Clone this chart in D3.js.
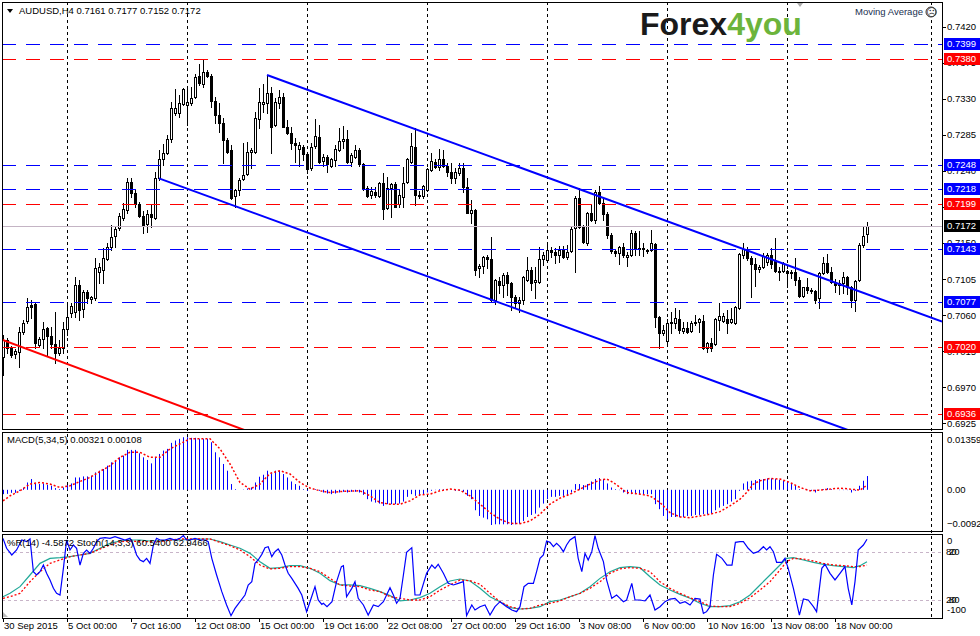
<!DOCTYPE html>
<meta charset="utf-8">
<style>
body { margin: 0; background: #fff; }
text { font-family: "Liberation Sans", Arial, sans-serif; font-size: 9.5px; }
</style>
<svg width="980" height="636"></svg>
<script src="https://cdn.jsdelivr.net/npm/d3@7/dist/d3.min.js"></script>
<script>
// AUDUSD H4 candles, 30 Sep 2015 08:00 .. 19 Nov 2015 08:00
var opens = [0.7008,0.7029,0.7019,0.7011,0.7014,0.7039,0.7053,0.7073,0.7074,0.7023,0.7030,0.7044,0.7034,0.7024,0.7013,0.7019,0.7043,0.7063,0.7064,0.7098,
0.7068,0.7089,0.7080,0.7081,0.7114,0.7116,0.7130,0.7145,0.7159,0.7169,0.7181,0.7191,0.7226,0.7213,0.7199,0.7184,0.7174,0.7186,0.7181,0.7231,
0.7255,0.7263,0.7280,0.7313,0.7313,0.7324,0.7323,0.7325,0.7333,0.7359,0.7349,0.7364,0.7359,0.7328,0.7310,0.7300,0.7279,0.7266,0.7209,0.7216,
0.7230,0.7236,0.7264,0.7264,0.7305,0.7324,0.7325,0.7338,0.7298,0.7325,0.7333,0.7295,0.7288,0.7275,0.7268,0.7270,0.7261,0.7244,0.7271,0.7283,
0.7253,0.7258,0.7246,0.7254,0.7266,0.7278,0.7280,0.7251,0.7258,0.7266,0.7249,0.7219,0.7210,0.7214,0.7209,0.7225,0.7194,0.7219,0.7224,0.7199,
0.7208,0.7226,0.7251,0.7270,0.7210,0.7209,0.7216,0.7241,0.7251,0.7245,0.7255,0.7246,0.7239,0.7231,0.7238,0.7244,0.7220,0.7188,0.7191,0.7119,
0.7121,0.7133,0.7130,0.7079,0.7103,0.7098,0.7110,0.7100,0.7083,0.7075,0.7079,0.7104,0.7116,0.7101,0.7101,0.7130,0.7129,0.7141,0.7139,0.7135,
0.7141,0.7133,0.7140,0.7169,0.7206,0.7170,0.7150,0.7188,0.7179,0.7214,0.7200,0.7186,0.7160,0.7140,0.7138,0.7145,0.7133,0.7135,0.7163,0.7143,
0.7144,0.7141,0.7141,0.7149,0.7058,0.7038,0.7028,0.7050,0.7050,0.7055,0.7040,0.7044,0.7040,0.7050,0.7051,0.7053,0.7019,0.7025,0.7024,0.7054,
0.7053,0.7055,0.7051,0.7050,0.7069,0.7135,0.7143,0.7131,0.7124,0.7118,0.7120,0.7126,0.7135,0.7129,0.7115,0.7115,0.7115,0.7113,0.7114,0.7104,
0.7084,0.7095,0.7091,0.7090,0.7081,0.7113,0.7125,0.7114,0.7101,0.7098,0.7100,0.7108,0.7095,0.7079,0.7104,0.7148,0.7161];
var highs = [0.7035,0.7031,0.7021,0.7018,0.7045,0.7054,0.7081,0.7079,0.7076,0.7033,0.7051,0.7045,0.7045,0.7064,0.7029,0.7051,0.7075,0.7075,0.7108,0.7104,
0.7091,0.7091,0.7084,0.7131,0.7125,0.7144,0.7150,0.7173,0.7171,0.7188,0.7200,0.7231,0.7231,0.7216,0.7201,0.7190,0.7191,0.7198,0.7239,0.7266,
0.7274,0.7285,0.7326,0.7343,0.7335,0.7344,0.7345,0.7345,0.7361,0.7374,0.7380,0.7366,0.7361,0.7333,0.7325,0.7306,0.7281,0.7273,0.7218,0.7231,
0.7275,0.7276,0.7269,0.7314,0.7344,0.7349,0.7360,0.7345,0.7331,0.7341,0.7338,0.7304,0.7295,0.7281,0.7276,0.7273,0.7263,0.7275,0.7305,0.7298,
0.7261,0.7260,0.7256,0.7273,0.7294,0.7296,0.7291,0.7263,0.7273,0.7269,0.7250,0.7221,0.7220,0.7220,0.7226,0.7238,0.7233,0.7225,0.7226,0.7216,
0.7245,0.7256,0.7288,0.7294,0.7215,0.7223,0.7244,0.7263,0.7255,0.7268,0.7266,0.7250,0.7250,0.7244,0.7250,0.7250,0.7231,0.7204,0.7193,0.7124,
0.7134,0.7135,0.7158,0.7105,0.7108,0.7113,0.7114,0.7101,0.7085,0.7083,0.7109,0.7133,0.7120,0.7120,0.7145,0.7139,0.7150,0.7145,0.7144,0.7146,
0.7146,0.7148,0.7170,0.7209,0.7219,0.7173,0.7189,0.7198,0.7216,0.7221,0.7208,0.7189,0.7163,0.7143,0.7146,0.7150,0.7139,0.7166,0.7165,0.7165,
0.7150,0.7143,0.7166,0.7150,0.7059,0.7048,0.7055,0.7064,0.7069,0.7066,0.7051,0.7051,0.7053,0.7060,0.7056,0.7060,0.7026,0.7031,0.7056,0.7075,
0.7063,0.7066,0.7069,0.7071,0.7138,0.7150,0.7145,0.7134,0.7131,0.7123,0.7138,0.7138,0.7144,0.7156,0.7120,0.7126,0.7116,0.7116,0.7131,0.7108,
0.7095,0.7106,0.7094,0.7091,0.7114,0.7133,0.7136,0.7120,0.7105,0.7104,0.7114,0.7109,0.7096,0.7104,0.7150,0.7170,0.7177];
var lows = [0.6985,0.7013,0.7008,0.7006,0.6995,0.7036,0.7050,0.7056,0.7019,0.7020,0.7019,0.7010,0.7019,0.7000,0.7010,0.7013,0.7035,0.7058,0.7058,0.7054,
0.7058,0.7075,0.7075,0.7079,0.7100,0.7100,0.7129,0.7141,0.7145,0.7166,0.7179,0.7188,0.7208,0.7195,0.7183,0.7163,0.7164,0.7170,0.7180,0.7229,
0.7248,0.7261,0.7276,0.7310,0.7308,0.7323,0.7298,0.7323,0.7331,0.7348,0.7345,0.7358,0.7320,0.7300,0.7289,0.7250,0.7263,0.7205,0.7195,0.7210,
0.7229,0.7235,0.7244,0.7263,0.7294,0.7314,0.7313,0.7263,0.7296,0.7319,0.7295,0.7286,0.7268,0.7251,0.7246,0.7254,0.7238,0.7241,0.7269,0.7250,
0.7246,0.7239,0.7245,0.7246,0.7265,0.7269,0.7250,0.7246,0.7256,0.7246,0.7216,0.7208,0.7206,0.7208,0.7208,0.7180,0.7193,0.7183,0.7195,0.7195,
0.7195,0.7225,0.7250,0.7198,0.7206,0.7206,0.7215,0.7240,0.7244,0.7241,0.7245,0.7234,0.7225,0.7225,0.7235,0.7214,0.7188,0.7175,0.7110,0.7108,
0.7113,0.7119,0.7076,0.7074,0.7088,0.7083,0.7085,0.7066,0.7070,0.7064,0.7074,0.7103,0.7091,0.7081,0.7100,0.7123,0.7128,0.7133,0.7125,0.7126,
0.7131,0.7130,0.7139,0.7114,0.7169,0.7150,0.7148,0.7178,0.7175,0.7199,0.7179,0.7156,0.7138,0.7134,0.7124,0.7133,0.7121,0.7134,0.7135,0.7135,
0.7134,0.7138,0.7140,0.7045,0.7019,0.7035,0.7025,0.7038,0.7044,0.7038,0.7038,0.7038,0.7039,0.7048,0.7039,0.7018,0.7014,0.7015,0.7023,0.7041,
0.7051,0.7038,0.7050,0.7049,0.7068,0.7131,0.7129,0.7083,0.7096,0.7114,0.7119,0.7123,0.7119,0.7114,0.7104,0.7114,0.7095,0.7106,0.7098,0.7083,
0.7083,0.7088,0.7088,0.7075,0.7069,0.7111,0.7113,0.7100,0.7089,0.7086,0.7088,0.7086,0.7070,0.7065,0.7103,0.7145,0.7152];
var closes = [0.7029,0.7019,0.7010,0.7015,0.7039,0.7050,0.7070,0.7070,0.7025,0.7030,0.7043,0.7034,0.7024,0.7013,0.7019,0.7043,0.7058,0.7071,0.7098,0.7066,
0.7089,0.7081,0.7083,0.7119,0.7120,0.7131,0.7145,0.7158,0.7168,0.7184,0.7193,0.7226,0.7213,0.7199,0.7184,0.7171,0.7186,0.7183,0.7231,0.7255,
0.7263,0.7280,0.7319,0.7319,0.7325,0.7343,0.7326,0.7331,0.7358,0.7350,0.7364,0.7359,0.7328,0.7310,0.7300,0.7279,0.7264,0.7206,0.7216,0.7229,
0.7235,0.7264,0.7266,0.7306,0.7326,0.7326,0.7338,0.7295,0.7326,0.7333,0.7295,0.7288,0.7275,0.7273,0.7273,0.7261,0.7243,0.7270,0.7284,0.7251,
0.7258,0.7249,0.7255,0.7268,0.7278,0.7280,0.7251,0.7260,0.7266,0.7249,0.7219,0.7209,0.7215,0.7210,0.7225,0.7193,0.7219,0.7224,0.7195,0.7210,
0.7225,0.7255,0.7271,0.7210,0.7209,0.7221,0.7243,0.7253,0.7245,0.7255,0.7246,0.7239,0.7231,0.7239,0.7244,0.7220,0.7188,0.7191,0.7116,0.7121,
0.7133,0.7130,0.7079,0.7104,0.7098,0.7110,0.7100,0.7083,0.7075,0.7079,0.7108,0.7116,0.7100,0.7104,0.7130,0.7135,0.7141,0.7139,0.7135,0.7141,
0.7133,0.7139,0.7168,0.7206,0.7170,0.7151,0.7188,0.7179,0.7214,0.7200,0.7186,0.7160,0.7140,0.7138,0.7145,0.7135,0.7135,0.7163,0.7143,0.7144,
0.7143,0.7140,0.7150,0.7058,0.7038,0.7041,0.7050,0.7051,0.7056,0.7041,0.7044,0.7039,0.7050,0.7051,0.7055,0.7019,0.7025,0.7019,0.7055,0.7059,
0.7059,0.7050,0.7055,0.7070,0.7136,0.7143,0.7131,0.7124,0.7118,0.7120,0.7134,0.7135,0.7124,0.7115,0.7114,0.7125,0.7113,0.7114,0.7104,0.7084,
0.7095,0.7091,0.7090,0.7079,0.7113,0.7125,0.7114,0.7101,0.7098,0.7100,0.7108,0.7095,0.7079,0.7103,0.7148,0.7159,0.7172];

var priceTicks = [0.7420,0.7375,0.7330,0.7285,0.7240,0.7195,0.7150,0.7105,0.7060,0.7015,0.6970,0.6925];
var blueLevels = [0.7399,0.7248,0.7218,0.7143,0.7077];
var redLevels = [0.7380,0.7199,0.7020,0.6936];
var bidPrice = 0.7172;
// trend objects: [bar, price] anchors
var upperChannel = [[66,0.7360],[234.75,0.7052]];
var lowerChannel = [[39,0.7231],[207.75,0.6923]];
var redTrend = [[0,0.7029],[58,0.6921]];

var timeBars = [0,16,32,48,64,80,96,112,128,144,160,176,192,208];
var timeLabels = ["30 Sep 2015","5 Oct 00:00","7 Oct 16:00","12 Oct 08:00","15 Oct 00:00","19 Oct 16:00","22 Oct 08:00",
  "27 Oct 00:00","29 Oct 16:00","3 Nov 08:00","6 Nov 00:00","10 Nov 16:00","13 Nov 08:00","18 Nov 00:00"];
var weekBars = [16,46,76,106,136,166,196,232];

// MACD(5,34,5)
var macdHist = [-0.00101,-0.00094,-0.00070,-0.00070,-0.00023,0.00047,0.00171,0.00251,0.00148,0.00134,0.00148,0.00117,0.00094,0.00040,0.00016,0.00054,0.00110,0.00148,0.00288,0.00288,
0.00312,0.00312,0.00328,0.00405,0.00445,0.00485,0.00562,0.00640,0.00679,0.00757,0.00797,0.00930,0.00930,0.00930,0.00851,0.00757,0.00696,0.00616,0.00757,0.00836,
0.00914,0.00954,0.01094,0.01148,0.01188,0.01225,0.01225,0.01211,0.01211,0.01188,0.01188,0.01188,0.01108,0.00874,0.00757,0.00602,0.00445,0.00134,0.00016,0,
0.00007,0.00030,0.00054,0.00171,0.00305,0.00351,0.00445,0.00382,0.00445,0.00445,0.00368,0.00288,0.00194,0.00134,0.00094,0.00016,-0.00023,0,0.00016,-0.00023,
-0.00063,-0.00087,-0.00101,-0.00087,-0.00063,-0.00047,-0.00063,-0.00047,-0.00047,-0.00063,-0.00117,-0.00218,-0.00274,-0.00298,-0.00321,-0.00375,-0.00335,-0.00335,-0.00335,-0.00321,
-0.00274,-0.00164,-0.00101,-0.00141,-0.00141,-0.00117,-0.00063,-0.00023,-0.00007,0.00016,0.00016,0.00007,0,-0.00023,-0.00023,-0.00047,-0.00141,-0.00218,-0.00476,-0.00609,
-0.00649,-0.00687,-0.00820,-0.00804,-0.00804,-0.00804,-0.00804,-0.00820,-0.00804,-0.00790,-0.00726,-0.00633,-0.00586,-0.00555,-0.00415,-0.00321,-0.00218,-0.00164,-0.00164,-0.00141,
-0.00141,-0.00141,-0.00063,0.00134,0.00134,0.00110,0.00134,0.00194,0.00251,0.00274,0.00251,0.00148,0.00054,0.00016,-0.00007,-0.00063,-0.00101,-0.00101,-0.00101,-0.00101,
-0.00101,-0.00101,-0.00101,-0.00335,-0.00452,-0.00609,-0.00687,-0.00633,-0.00633,-0.00633,-0.00633,-0.00609,-0.00609,-0.00586,-0.00586,-0.00569,-0.00569,-0.00555,-0.00476,-0.00415,
-0.00375,-0.00335,-0.00274,-0.00218,-0.00023,0.00148,0.00194,0.00211,0.00227,0.00251,0.00251,0.00265,0.00265,0.00251,0.00234,0.00211,0.00194,0.00134,0.00094,0.00016,
0,-0.00007,-0.00023,-0.00063,-0.00007,0.00016,0.00040,0.00016,0,-0.00007,-0.00007,-0.00007,-0.00063,-0.00023,0.00094,0.00211,0.00321];
var macdSignal = [[0,-0.00258],[1.75,-0.00141],[4.25,-0.00023],[6.75,0.00134],[9.25,0.00171],[11.75,0.00134],[14.25,0.00054],[16.75,0.00094],
[19.25,0.00194],[21.75,0.00288],[24.25,0.00429],[26.75,0.00562],[29.25,0.00757],[31.75,0.00874],[34.25,0.00874],[36.75,0.00757],[39.25,0.00757],
[41.75,0.00954],[44.25,0.01071],[46.75,0.01188],[49.25,0.01188],[51.75,0.01188],[54.25,0.00954],[56.75,0.00602],[59.25,0.00171],[61.75,0.00016],
[64.25,0.00134],[66.75,0.00382],[69.25,0.00445],[71.75,0.00368],[74.25,0.00171],[76.75,0.00040],[79.25,-0.00023],[81.75,-0.00063],[84.25,-0.00040],
[89.25,-0.00023],[91.75,-0.00141],[94.25,-0.00298],[96.75,-0.00335],[99.25,-0.00335],[101.75,-0.00258],[104.25,-0.00117],[106.75,-0.00101],
[109.25,-0.00023],[111.75,0.00016],[114.25,-0.00007],[116.75,-0.00141],[119.25,-0.00335],[121.75,-0.00532],[124.25,-0.00687],[126.75,-0.00780],
[129.25,-0.00790],[131.75,-0.00726],[134.25,-0.00569],[136.75,-0.00335],[139.25,-0.00194],[141.75,-0.00101],[144.25,0.00016],[146.75,0.00134],
[149.25,0.00227],[150.9,0.00251],[152.6,0.00171],[154.25,0.00054],[155.9,-0.00063],[159.25,-0.00101],[161.75,-0.00141],[164.25,-0.00298],
[166.75,-0.00532],[169.25,-0.00633],[171.75,-0.00649],[174.25,-0.00609],[176.75,-0.00569],[179.25,-0.00508],[181.75,-0.00375],[184.25,-0.00218],
[185.9,-0.00063],[187.6,0.00134],[189.25,0.00211],[191.75,0.00265],[194.25,0.00251],[196.75,0.00171],[199.25,0.00054],[201.75,-0.00023],
[204.25,-0.00007],[206.75,0.00016],[209.25,0.00040],[211.75,0.00016],[214.25,-0.00007],[216,0.00108]];
var macdTicks = [0.01359, 0, -0.00925];

// %R(14) and Stochastic, [bar, value]
var pctR = [[0,-3.4],[0.9,-15.8],[2.2,-24.1],[3.4,-17.9],[4.7,-5.5],[5.9,-7.5],[6.75,-4.2],[7.6,-44.9],[8.4,-49],[9.25,-44.9],[10.1,-36.6],[10.9,-46.9],
[11.75,-55.2],[12.6,-65.6],[13.4,-71.8],[14.25,-73.9],[15.1,-40.7],[15.9,-5.5],[16.75,-17.9],[17.6,-11.7],[18.4,-15.8],[19.25,-36.6],[20.1,-22.1],
[20.9,-17.9],[21.75,-22.1],[22.6,-15.8],[23.4,-7.5],[24.25,-3.4],[25.5,-2.6],[26.75,-3.4],[28,-1.3],[29.25,-3.4],[30.5,-5.5],[31.75,-3.4],[32.6,-11.7],
[33.4,-24.1],[34.25,-30.3],[35.1,-32.4],[35.9,-28.3],[36.75,-34.5],[37.6,-11.7],[38.4,-3.4],[39.25,-5.5],[40.5,-5.5],[41.75,-3.4],[43,-5.5],[44.25,-3.4],
[45.1,0],[45.9,-5.5],[46.75,-5.5],[48,-3.4],[49.25,-5.5],[50.5,-5.5],[51.3,-7.5],[52.2,-28.3],[53.4,-49],[54.7,-69.7],[55.9,-86.3],[57,-99.6],[58,-90.5],
[59.25,-82.2],[60.5,-73.9],[61.3,-61.4],[62.2,-57.3],[63,-34.5],[63.8,-30.3],[64.7,-23.3],[65.5,-15],[66.3,-13.8],[67.2,-26.2],[68,-20],[68.8,-16.7],
[69.7,-24.1],[70.5,-36.6],[71.3,-46.9],[72.2,-53.2],[73,-59.4],[73.8,-65.6],[74.7,-73.9],[75.9,-94.6],[76.75,-82.2],[78,-63.5],[78.8,-80.1],[79.7,-85.5],
[80.1,-84.2],[81,-88.4],[82.25,-82.2],[83.4,-57.3],[84.6,-38.6],[85.1,-37.4],[85.9,-76],[87.2,-65.6],[88,-57.3],[88.8,-78],[90.1,-86.3],[91.3,-98.8],
[92.6,-86.3],[93.8,-88.4],[95.1,-82.2],[95.9,-73.9],[96.75,-64.8],[97.6,-73.9],[98.4,-84.2],[99.25,-78],[100.1,-49],[100.9,-20.8],[102.2,-15],[103,-73.9],
[104.25,-73.9],[105.9,-46.9],[107.2,-36.6],[108,-40.7],[108.8,-35.7],[110.1,-46.9],[111.3,-59.4],[112.6,-61.4],[113.8,-59.4],[115.1,-57.3],[115.9,-99.6],
[117.2,-86.3],[118,-92.5],[119.25,-88.4],[120.5,-86.3],[121.75,-98.8],[123,-88.4],[124.25,-82.2],[125.9,-88.4],[127.2,-92.5],[128.4,-94.6],[129.25,-88.4],
[130.25,-63.5],[131.3,-59.4],[132.6,-59.4],[133.4,-44.9],[134.25,-28.3],[135.1,-24.1],[135.9,-6.7],[136.75,-8.4],[137.6,-13.8],[138.4,-9.6],[139.25,-13.8],
[140.1,-20],[140.9,-11.7],[141.75,-5.5],[143,-1.3],[143.8,-28.3],[144.7,-44.9],[145.5,-22.1],[146.3,-30.3],[147.2,-20],[148,-0.1],[148.8,-15.8],
[150.1,-32.4],[150.9,-55.2],[152.2,-78],[153.4,-73.9],[154.25,-78],[155.1,-82.2],[155.9,-80.1],[157.2,-59.4],[158,-80.1],[159.25,-80.1],[160.5,-81.3],
[161.75,-73.9],[163,-92.5],[164.25,-88.4],[165.5,-82.2],[166.75,-78.9],[168,-78],[169.25,-84.2],[170.5,-82.2],[171.75,-86.3],[173,-78],[174.25,-78.9],
[175.1,-96.7],[175.9,-94.6],[176.75,-88.4],[177.6,-49],[178.4,-23.3],[179.75,-28.3],[181,-36.6],[182.25,-36.6],[183.1,-8.4],[184.25,-7.5],[185.1,-7.5],
[186.3,-15.8],[187.6,-22.1],[188.8,-20],[190.1,-13.8],[190.9,-17.9],[191.75,-13.8],[192.6,-20],[193.4,-33.2],[194.7,-33.2],[195.5,-28.3],[196.3,-40.7],
[197.6,-65.6],[199.1,-98.8],[200.1,-78.9],[201.3,-80.1],[202.6,-88.4],[203.4,-94.6],[204.7,-40.7],[205.5,-35.7],[206.75,-46.9],[208,-55.2],[209.25,-46.9],
[210.5,-38.6],[211.3,-65.6],[212.2,-86.3],[213,-57.3],[213.8,-17.9],[215.1,-11.7],[216,-4.6]];
var stochMain = [[0,24],[1.75,28.2],[4.25,36.5],[6.75,51],[9.25,65.5],[11.75,71.7],[14.25,72.6],[16.75,73.8],[19.25,75.9],[21.75,77.9],[24.25,84.2],
[26.75,90.4],[29.25,93.3],[31.75,94.5],[34.25,94.5],[36.75,93.3],[39.25,93.3],[41.75,94.5],[44.25,94.5],[46.75,95.4],[49.25,95.8],[51.75,95.8],
[54.25,92.5],[56.75,88.3],[59.25,84.2],[61.75,77.9],[64.25,67.6],[66.75,59.3],[69.25,60.1],[71.75,62.6],[74.25,62.6],[76.75,59.3],[79.25,53.1],
[81.75,44],[84.25,38.6],[86.75,38.6],[89.25,37.7],[91.75,34.4],[94.25,30.3],[96.75,25.3],[99.25,18.7],[101.75,19.9],[104.25,22.8],[106.75,28.2],
[109.25,36.5],[111.75,43.5],[114.25,46],[116.75,43.5],[119.25,34.4],[121.75,24],[124.25,17.8],[126.75,10.4],[129.25,8.7],[131.75,9.5],[134.25,11.6],
[136.75,17.8],[139.25,19.9],[141.75,24],[144.25,28.2],[146.75,36.5],[149.25,46.8],[151.75,55.1],[154.25,60.1],[156.75,61.4],[159.25,60.1],
[161.75,48.9],[164.25,38.6],[166.75,32.3],[169.25,26.9],[171.75,22],[174.25,15.8],[176.75,11.6],[179.25,11.6],[181.75,12.9],[184.25,17.8],
[186.75,26.1],[189.25,38.6],[191.75,51],[194.25,63.4],[195.9,71.7],[197.6,72.6],[200.1,69.7],[202.6,66.8],[205.1,64.3],[207.6,62.6],[210.1,61.4],
[212.6,60.1],[214.25,62.6],[216,67.6]];
var stochSignal = [[0,22],[1.75,24],[4.25,28.2],[6.75,42.7],[9.25,55.1],[11.75,65.5],[14.25,69.7],[16.75,73.8],[19.25,75.9],[21.75,77.9],[24.25,83.3],
[26.75,88.3],[29.25,92.5],[31.75,93.3],[34.25,92.5],[36.75,92.5],[39.25,92.5],[41.75,94.5],[44.25,95.8],[46.75,95.8],[49.25,95.8],[51.75,95.8],
[54.25,91.6],[56.75,87.5],[59.25,82.1],[61.75,73.8],[64.25,63.4],[66.75,58.5],[69.25,59.3],[71.75,61.4],[74.25,61.4],[76.75,59.3],[79.25,55.1],
[81.75,46.8],[84.25,38.6],[86.75,37.3],[89.25,36.5],[91.75,32.3],[94.25,30.3],[96.75,24],[99.25,22],[101.75,19.9],[104.25,19.9],[106.75,24],
[109.25,32.3],[111.75,38.6],[114.25,44.8],[116.75,43.9],[119.25,39.4],[121.75,28.2],[124.25,17.8],[126.75,11.6],[129.25,8.7],[131.75,9.5],[134.25,13.7],
[136.75,15.8],[139.25,18.7],[141.75,24],[144.25,28.2],[146.75,34.4],[149.25,42.7],[151.75,53.1],[154.25,58.5],[156.75,60.1],[159.25,59.3],
[161.75,55.1],[164.25,42.7],[166.75,34.4],[169.25,28.2],[171.75,22.8],[174.25,17.8],[176.75,12.4],[179.25,11.6],[181.75,11.6],[184.25,15.8],
[186.75,22.8],[189.25,32.3],[191.75,42.7],[194.25,57.2],[195.9,67.6],[197.6,71.7],[200.1,70.9],[202.6,68.4],[205.1,65.5],[207.6,63.4],[210.1,62.6],
[212.6,61.4],[214.25,61.4],[216,63.4]];
var stochLevels = [80, 20];

var svg = d3.select("svg");
var L = 2, R = 942;
var panels = {main: [2, 429], macd: [432, 531], stoch: [534, 618]};

var x = d3.scaleLinear().domain([0, 216]).range([3, 867]);
var y = d3.scaleLinear().domain([0.6925, 0.7420]).range([423.3, 27]);
var yM = d3.scaleLinear().domain([-0.00925, 0.01359]).range([529.5, 431.5]);
var yS = d3.scaleLinear().domain([0, 100]).range([616, 535.6]);
var yR = d3.scaleLinear().domain([-100, 0]).range([616, 535.6]);
var fmt4 = d3.format(".4f");

var defs = svg.append("defs");
Object.keys(panels).forEach(function(k) {
  defs.append("clipPath").attr("id", "clip-" + k)
    .append("rect").attr("x", L).attr("y", panels[k][0])
    .attr("width", R - L).attr("height", panels[k][1] - panels[k][0]);
});

// weekly separators
svg.append("g").selectAll("line").data(weekBars).enter().append("line")
    .attr("x1", function(d) { return Math.round(x(d)) + 0.5; })
    .attr("x2", function(d) { return Math.round(x(d)) + 0.5; })
    .attr("y1", 2).attr("y2", 618)
    .attr("stroke", "#000").attr("stroke-dasharray", "3,3");

// ---- main panel
var gMain = svg.append("g").attr("clip-path", "url(#clip-main)");

var candles = gMain.append("g").attr("shape-rendering", "crispEdges")
  .selectAll("g").data(d3.range(opens.length)).enter().append("g");
candles.append("line")
    .attr("x1", function(i) { return Math.round(x(i)) + 0.5; })
    .attr("x2", function(i) { return Math.round(x(i)) + 0.5; })
    .attr("y1", function(i) { return Math.round(y(highs[i])); })
    .attr("y2", function(i) { return Math.round(y(lows[i])) + 1; })
    .attr("stroke", "#000");
candles.append("rect")
    .attr("x", function(i) { return Math.round(x(i)) - 0.5; })
    .attr("width", 2)
    .attr("y", function(i) { return Math.round(y(Math.max(opens[i], closes[i]))) + 0.5; })
    .attr("height", function(i) {
      return Math.max(0, Math.round(y(Math.min(opens[i], closes[i]))) - Math.round(y(Math.max(opens[i], closes[i]))));
    })
    .attr("fill", function(i) { return closes[i] >= opens[i] ? "#fff" : "#000"; })
    .attr("stroke", "#000");

// bid line
gMain.append("line").attr("x1", L).attr("x2", R)
    .attr("y1", Math.round(y(bidPrice)) + 0.5).attr("y2", Math.round(y(bidPrice)) + 0.5)
    .attr("stroke", "#c4b4c4");

function levelLines(vals, color) {
  gMain.append("g").selectAll("line").data(vals).enter().append("line")
      .attr("x1", L).attr("x2", R)
      .attr("y1", function(d) { return Math.round(y(d)) + 0.5; })
      .attr("y2", function(d) { return Math.round(y(d)) + 0.5; })
      .attr("stroke", color).attr("stroke-width", 1.2)
      .attr("stroke-dasharray", "14,10");
}
levelLines(blueLevels, "#0000ff");
levelLines(redLevels, "#ff0000");

function ray(pts, both) {
  var x1 = x(pts[0][0]), y1 = y(pts[0][1]), x2 = x(pts[1][0]), y2 = y(pts[1][1]);
  var m = (y2 - y1) / (x2 - x1);
  var xa = both ? L : x1;
  return [[xa, y1 + m * (xa - x1)], [R, y1 + m * (R - x1)]];
}
var lineGen = d3.line();
[[upperChannel, false, "#0000ff"], [lowerChannel, false, "#0000ff"], [redTrend, true, "#ff0000"]].forEach(function(t) {
  gMain.append("path").attr("d", lineGen(ray(t[0], t[1])))
      .attr("fill", "none").attr("stroke", t[2]).attr("stroke-width", 2);
});

// ---- MACD panel
var gMacd = svg.append("g").attr("clip-path", "url(#clip-macd)");
gMacd.append("g").selectAll("line").data(macdHist).enter().append("line")
    .attr("x1", function(d, i) { return Math.round(x(i)) + 0.5; })
    .attr("x2", function(d, i) { return Math.round(x(i)) + 0.5; })
    .attr("y1", yM(0)).attr("y2", function(d) { return yM(d); })
    .attr("stroke", "#0000ff");
gMacd.append("path").datum(macdSignal)
    .attr("d", d3.line().x(function(d) { return x(d[0]); }).y(function(d) { return yM(d[1]); }))
    .attr("fill", "none").attr("stroke", "#ff0000").attr("stroke-width", 1.5)
    .attr("stroke-dasharray", "2,2");

// ---- %R / Stochastic panel
var gSt = svg.append("g").attr("clip-path", "url(#clip-stoch)");
gSt.append("g").selectAll("line").data(stochLevels).enter().append("line")
    .attr("x1", L).attr("x2", R)
    .attr("y1", function(d) { return Math.round(yS(d)) + 0.5; })
    .attr("y2", function(d) { return Math.round(yS(d)) + 0.5; })
    .attr("stroke", "#c8b4c8").attr("stroke-dasharray", "3,3");
gSt.append("path").datum(stochMain)
    .attr("d", d3.line().x(function(d) { return x(d[0]); }).y(function(d) { return yS(d[1]); }))
    .attr("fill", "none").attr("stroke", "#20a898").attr("stroke-width", 1.2);
gSt.append("path").datum(stochSignal)
    .attr("d", d3.line().x(function(d) { return x(d[0]); }).y(function(d) { return yS(d[1]); }))
    .attr("fill", "none").attr("stroke", "#ff0000").attr("stroke-width", 1.3)
    .attr("stroke-dasharray", "2,2");
gSt.append("path").datum(pctR)
    .attr("d", d3.line().x(function(d) { return x(d[0]); }).y(function(d) { return yR(d[1]); }))
    .attr("fill", "none").attr("stroke", "#0000ff").attr("stroke-width", 1.2);

// ---- panel frames
Object.keys(panels).forEach(function(k) {
  svg.append("rect").attr("x", L + 0.5).attr("y", panels[k][0] + 0.5)
      .attr("width", R - L).attr("height", panels[k][1] - panels[k][0])
      .attr("fill", "none").attr("stroke", "#000").attr("shape-rendering", "crispEdges");
});

// ---- right price axis
var axisG = svg.append("g");
axisG.selectAll("line.tk").data(priceTicks).enter().append("line")
    .attr("x1", R).attr("x2", R + 4)
    .attr("y1", function(d) { return Math.round(y(d)) + 0.5; })
    .attr("y2", function(d) { return Math.round(y(d)) + 0.5; })
    .attr("stroke", "#000");
axisG.selectAll("text.tk").data(priceTicks).enter().append("text")
    .attr("x", 947).attr("y", function(d) { return y(d); }).attr("dy", "0.35em")
    .text(fmt4);

function priceBox(v, color) {
  var g = axisG.append("g").attr("transform", "translate(0," + Math.round(y(v)) + ")");
  g.append("rect").attr("x", 944).attr("y", -6).attr("width", 36).attr("height", 12).attr("fill", color);
  g.append("text").attr("x", 947).attr("y", 0).attr("dy", "0.35em").attr("fill", "#fff").text(fmt4(v));
}
blueLevels.forEach(function(v) { priceBox(v, "#0000ff"); });
redLevels.forEach(function(v) { priceBox(v, "#ff0000"); });
priceBox(bidPrice, "#000");

// MACD axis
axisG.selectAll("text.m").data(macdTicks).enter().append("text")
    .attr("x", 947)
    .attr("y", function(d) { return yM(d) + (d > 0 ? 8 : d < 0 ? -6 : 0); })
    .attr("dy", "0.35em")
    .text(function(d) { return d === 0 ? "0.00" : d3.format(".5f")(d); });

// %R / stoch axis
axisG.append("text").attr("x", 947).attr("y", yR(0) + 5).attr("dy", "0.35em").text("0");
axisG.append("text").attr("x", 947).attr("y", yR(-100) - 6).attr("dy", "0.35em").text("-100");
stochLevels.forEach(function(v) {
  axisG.append("text").attr("x", 946).attr("y", yS(v)).attr("dy", "0.35em").text(v);
  axisG.append("text").attr("x", 949).attr("y", yS(v)).attr("dy", "0.35em").text(100 - v);
});

// ---- time axis
var timeG = svg.append("g");
timeG.selectAll("line").data(timeBars).enter().append("line")
    .attr("x1", function(d) { return Math.round(x(d)) + 0.5; })
    .attr("x2", function(d) { return Math.round(x(d)) + 0.5; })
    .attr("y1", 618).attr("y2", 622).attr("stroke", "#000");
timeG.selectAll("text").data(timeBars).enter().append("text")
    .attr("x", function(d) { return Math.round(x(d)) + 1; })
    .attr("y", 626).attr("dy", "0.35em")
    .text(function(d, i) { return timeLabels[i]; });

// ---- header texts
svg.append("path").attr("d", "M7,9L13,9L10,13Z").attr("fill", "#000");
svg.append("text").attr("x", 19).attr("y", 11).attr("dy", "0.35em")
    .text("AUDUSD,H4  " + [opens[216], highs[216], lows[216], closes[216]].map(fmt4).join(" "));
svg.append("text").attr("x", 7).attr("y", 440).attr("dy", "0.35em")
    .text("MACD(5,34,5) " + d3.format(".5f")(macdHist[216]) + " " + d3.format(".5f")(macdSignal[macdSignal.length - 1][1]));
svg.append("text").attr("x", 7).attr("y", 543).attr("dy", "0.35em")
    .text("%R(14) -4.5872  Stoch(14,3,3) 60.5400 62.9466");
svg.append("text").attr("x", 855).attr("y", 12).attr("dy", "0.35em").attr("fill", "#203050")
    .text("Moving Average");
svg.append("circle").attr("cx", 931).attr("cy", 12).attr("r", 5)
    .attr("fill", "#fff").attr("stroke", "#333");
svg.append("text").attr("x", 931).attr("y", 12).attr("dy", "0.35em").attr("text-anchor", "middle")
    .style("font-size", "11px").attr("fill", "#333").text("\u2639");
svg.append("path").attr("d", "M797,3L803,3L800,7Z").attr("fill", "#aaa");
svg.append("path").attr("d", "M3,612L3,617L8,617Z").attr("fill", "#bbb");

// logo
var logo = svg.append("text").attr("x", 640).attr("y", 35)
    .style("font-size", "32px").style("font-weight", "bold");
logo.append("tspan").attr("fill", "#1a1a1a").text("Forex");
logo.append("tspan").attr("fill", "#6cb43c").text("4you");
</script>
